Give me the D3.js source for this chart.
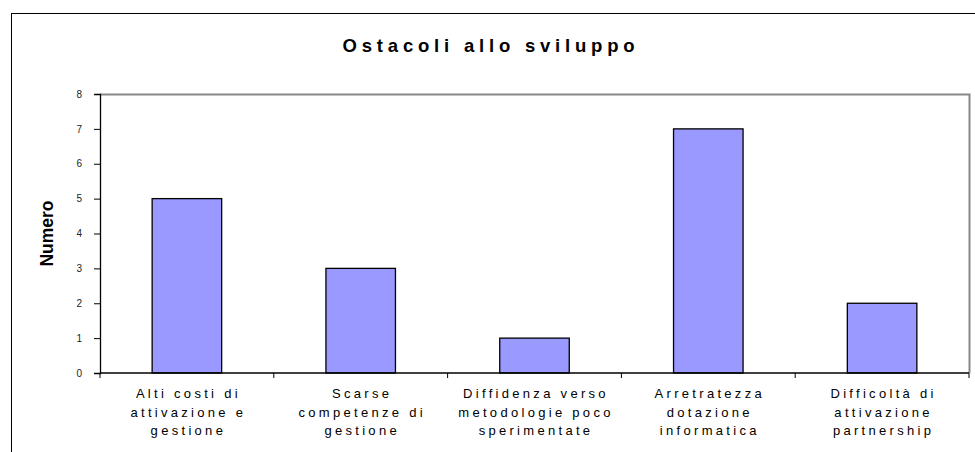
<!DOCTYPE html>
<html>
<head>
<meta charset="utf-8">
<script src="https://cdn.jsdelivr.net/npm/d3@7"></script>
<style>
  body { margin: 0; background: #fff; }
  svg { display: block; font-family: "Liberation Sans", Arial, sans-serif; }
</style>
</head>
<body>
<div id="chart"></div>
<script>
// Data
var categories = [
  ["Alti costi di", "attivazione e", "gestione"],
  ["Scarse", "competenze di", "gestione"],
  ["Diffidenza verso", "metodologie poco", "sperimentate"],
  ["Arretratezza", "dotazione", "informatica"],
  ["Difficoltà di", "attivazione", "partnership"]
];
var values = [5, 3, 1, 7, 2];
var yTicks = [0, 1, 2, 3, 4, 5, 6, 7, 8];

var W = 975, H = 452;
var margin = { top: 94, right: 6, bottom: 79, left: 100 };
var width = W - margin.left - margin.right;
var height = H - margin.top - margin.bottom;

var svg = d3.select("#chart").append("svg")
  .attr("width", W)
  .attr("height", H);

// outer chart border
svg.append("rect")
  .attr("x", 11.5).attr("y", 13.5)
  .attr("width", 1000).attr("height", 500)
  .attr("fill", "none").attr("stroke", "#000");

var g = svg.append("g")
  .attr("transform", "translate(" + margin.left + "," + margin.top + ")");

var x = d3.scaleBand()
  .domain(d3.range(categories.length))
  .range([0, width])
  .paddingInner(0.6)
  .paddingOuter(0.3);

var y = d3.scaleLinear().domain([0, 8]).range([height, 0]);

// plot area border (top & right, grey)
g.append("path")
  .attr("d", "M0,0.5H" + (width + 0.5) + "V" + height)
  .attr("fill", "none").attr("stroke", "#888").attr("stroke-width", 2);

// bars
g.selectAll("rect.bar")
  .data(values)
  .enter().append("rect")
  .attr("class", "bar")
  .attr("x", function (d, i) { return x(i); })
  .attr("y", function (d) { return y(d); })
  .attr("width", x.bandwidth())
  .attr("height", function (d) { return height - y(d); })
  .attr("fill", "#9999ff")
  .attr("stroke", "#000")
  .attr("stroke-width", 1.3);

// y axis
var yAxis = g.append("g")
  .call(d3.axisLeft(y).tickValues(yTicks).tickSize(6).tickPadding(12));
yAxis.select(".domain").attr("stroke", "#000").attr("stroke-width", 1.3);
yAxis.selectAll("text").attr("font-size", 10).attr("fill", "#222")
  .attr("font-family", "Liberation Sans, Arial, sans-serif");

// x axis with ticks between categories
var step = x.step();
var xAxis = g.append("g").attr("transform", "translate(0," + height + ")");
xAxis.append("line")
  .attr("x1", 0).attr("x2", width)
  .attr("stroke", "#000").attr("stroke-width", 1.3);
xAxis.selectAll("line.tick")
  .data(d3.range(categories.length + 1))
  .enter().append("line")
  .attr("class", "tick")
  .attr("x1", function (d) { return d * step; })
  .attr("x2", function (d) { return d * step; })
  .attr("y1", 0).attr("y2", 5)
  .attr("stroke", "#000");

// category labels
categories.forEach(function (lines, i) {
  var cx = x(i) + x.bandwidth() / 2 + 1.5;
  var t = xAxis.append("text")
    .attr("x", cx)
    .attr("y", 25)
    .attr("text-anchor", "middle")
    .attr("font-size", 13)
    .attr("letter-spacing", 3.3)
    .attr("fill", "#000");
  lines.forEach(function (l, k) {
    t.append("tspan")
      .attr("x", cx)
      .attr("dy", k === 0 ? 0 : 18.5)
      .text(l);
  });
});

// title
svg.append("text")
  .attr("x", 491).attr("y", 52)
  .attr("text-anchor", "middle")
  .attr("font-size", 18.5)
  .attr("font-weight", "bold")
  .attr("letter-spacing", 4.8)
  .text("Ostacoli allo sviluppo");

// y label
svg.append("text")
  .attr("transform", "translate(53," + (margin.top + height / 2) + ") rotate(-90)")
  .attr("text-anchor", "middle")
  .attr("font-size", 17.5)
  .attr("font-weight", "bold")
  .text("Numero");
</script>
</body>
</html>
